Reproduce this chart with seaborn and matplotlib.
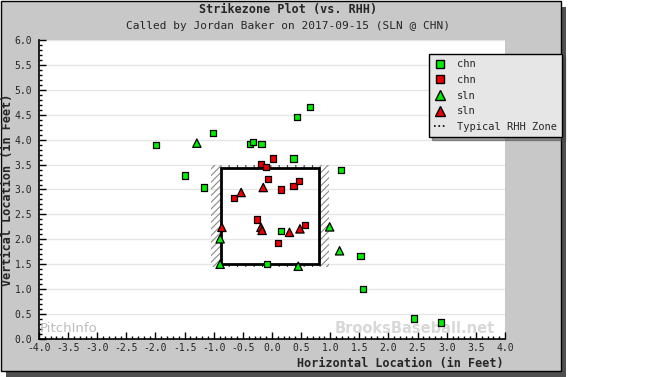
import matplotlib
matplotlib.use("Agg")
import matplotlib.pyplot as plt
import matplotlib.patches as mpatches
from matplotlib.lines import Line2D
import numpy as np
import pandas as pd
import seaborn as sns

# ---- data (feet) ----
chn_green_x = [-1.99, -1.01, -1.49, -1.17, -0.38, -0.33, -0.18, 0.43, 0.65, 0.37, 1.19, 0.16, -0.08, 1.52, 1.56, 2.44, 2.90]
chn_green_y = [3.89, 4.13, 3.28, 3.04, 3.91, 3.96, 3.91, 4.46, 4.66, 3.62, 3.39, 2.17, 1.50, 1.67, 1.01, 0.41, 0.33]
chn_red_x = [0.02, -0.19, -0.10, -0.07, 0.16, 0.37, 0.47, -0.65, -0.26, 0.57, 0.10]
chn_red_y = [3.62, 3.51, 3.45, 3.21, 3.00, 3.07, 3.17, 2.83, 2.40, 2.28, 1.92]
sln_green_x = [-1.29, -0.89, -0.89, 0.45, 0.99, 1.16]
sln_green_y = [3.93, 2.01, 1.50, 1.46, 2.25, 1.77]
sln_red_x = [-0.53, -0.15, -0.86, -0.19, -0.17, 0.30, 0.48]
sln_red_y = [2.94, 3.04, 2.24, 2.24, 2.18, 2.14, 2.21]

zone_left, zone_right = -0.88, 0.80
zone_bottom, zone_top = 1.51, 3.43

title = "Strikezone Plot (vs. RHH)"
subtitle = "Called by Jordan Baker on 2017-09-15 (SLN @ CHN)"
xlabel = "Horizontal Location (in Feet)"
ylabel = "Vertical Location (in Feet)"

frames = []
for xs, ys, team, call in [(chn_green_x, chn_green_y, "chn", "ball"),
                           (chn_red_x, chn_red_y, "chn", "strike"),
                           (sln_green_x, sln_green_y, "sln", "ball"),
                           (sln_red_x, sln_red_y, "sln", "strike")]:
    frames.append(pd.DataFrame({"x": xs, "y": ys, "team": team, "call": call}))
df = pd.concat(frames, ignore_index=True)

sns.set_style("white")
mono = ["DejaVu Sans Mono"]
plt.rcParams["font.family"] = mono

W, H = 670, 377
fig = plt.figure(figsize=(W / 100, H / 100), dpi=100)
fig.patch.set_facecolor("white")

px = lambda v: v / W
py = lambda v: 1 - v / H
fig.patches.append(mpatches.Rectangle((px(6), py(377)), px(560), 370 / H, transform=fig.transFigure,
                                      facecolor="#505050", edgecolor="none", zorder=-3))
fig.patches.append(mpatches.Rectangle((px(0.5), py(370.5)), px(560), 370 / H, transform=fig.transFigure,
                                      facecolor="#c8c8c8", edgecolor="black", linewidth=1, zorder=-2))

ax = fig.add_axes([px(39), py(339), px(505 - 39), (339 - 40) / H])
ax.set_facecolor("white")
ax.set_xlim(-4, 4)
ax.set_ylim(0, 6)

for gy in np.arange(0.5, 6.01, 0.5):
    ax.axhline(gy, color="#e6e6e6", lw=1, zorder=0)

plt.rcParams["hatch.linewidth"] = 0.8
hatch_kw = dict(facecolor="none", edgecolor="#8a8a8a", hatch="/////", lw=0, zorder=1)
ax.add_patch(mpatches.Rectangle((zone_left - 0.17, zone_bottom - 0.06), 0.17, zone_top - zone_bottom + 0.12, **hatch_kw))
ax.add_patch(mpatches.Rectangle((zone_right, zone_bottom - 0.06), 0.17, zone_top - zone_bottom + 0.12, **hatch_kw))
tick_kw = dict(facecolor="none", edgecolor="#404040", hatch="||", lw=0, zorder=1)
ax.add_patch(mpatches.Rectangle((zone_left, zone_top), zone_right - zone_left, 0.07, **tick_kw))
ax.add_patch(mpatches.Rectangle((zone_left, zone_bottom - 0.07), zone_right - zone_left, 0.07, **tick_kw))
ax.add_patch(mpatches.Rectangle((zone_left, zone_bottom), zone_right - zone_left, zone_top - zone_bottom,
                                facecolor="none", edgecolor="black", lw=2, zorder=2))

palette = {"ball": "#00ee00", "strike": "#ee0000"}
markers = {"chn": "s", "sln": "^"}
for team, size in [("chn", 20), ("sln", 36)]:
    sub = df[df["team"] == team]
    sns.scatterplot(data=sub, x="x", y="y", hue="call", palette=palette, marker=markers[team],
                    s=size, edgecolor="black", linewidth=0.9, ax=ax, legend=False, zorder=3)

ax.set_xlabel("")
ax.set_ylabel("")
xt = np.arange(-4, 4.01, 0.5)
yt = np.arange(0, 6.01, 0.5)
ax.set_xticks(xt)
ax.set_xticklabels([f"{v:.1f}" for v in xt], fontsize=7)
ax.set_yticks(yt)
ax.set_yticklabels([f"{v:.1f}" for v in yt], fontsize=7)
ax.set_xticks(np.arange(-4, 4.01, 0.1), minor=True)
ax.set_yticks(np.arange(0, 6.01, 0.1), minor=True)
ax.tick_params(axis="both", which="major", direction="in", length=5, width=1, color="black")
ax.tick_params(axis="both", which="minor", direction="in", length=2.5, width=1, color="black")
ax.tick_params(axis="x", which="major", pad=3)
ax.tick_params(axis="y", which="major", pad=5)
ax.tick_params(axis="x", which="both", bottom=True, top=False)
ax.tick_params(axis="y", which="both", left=True, right=False)
for s in ["top", "right"]:
    ax.spines[s].set_visible(False)
for s in ["left", "bottom"]:
    ax.spines[s].set_color("black")
    ax.spines[s].set_linewidth(1.2)

ax.text(-3.98, 0.08, "PitchInfo", fontsize=9.5, color="#bdbdbd", family="DejaVu Sans", ha="left", va="bottom", zorder=1)
ax.text(2.45, 0.06, "BrooksBaseball.net", fontsize=10.5, color="#d8d8d8", fontweight="bold",
        family="DejaVu Sans", ha="center", va="bottom", zorder=1)

fig.text(px(288), py(10), title, ha="center", va="center", fontsize=8.5, fontweight="bold")
fig.text(px(288), py(26), subtitle, ha="center", va="center", fontsize=8)
fig.text(px(504), py(364), xlabel, ha="right", va="center", fontsize=8.5, fontweight="bold")
fig.text(px(8), py(190), ylabel, ha="center", va="center", rotation=90, fontsize=8.5, fontweight="bold")

handles = [
    Line2D([], [], marker="s", ls="none", markerfacecolor="#00ee00", markeredgecolor="black", markersize=6),
    Line2D([], [], marker="s", ls="none", markerfacecolor="#ee0000", markeredgecolor="black", markersize=6),
    Line2D([], [], marker="^", ls="none", markerfacecolor="#00ee00", markeredgecolor="black", markersize=7),
    Line2D([], [], marker="^", ls="none", markerfacecolor="#ee0000", markeredgecolor="black", markersize=7),
    Line2D([], [], ls=":", color="black", lw=1.2),
]
labels = ["chn", "chn", "sln", "sln", "Typical RHH Zone"]
leg = fig.legend(handles, labels, loc="upper left", bbox_to_anchor=(px(429), py(54)),
                 bbox_transform=fig.transFigure, fontsize=7.5, frameon=True, fancybox=False,
                 shadow=True, handlelength=1.2, handletextpad=1.0, labelspacing=0.55,
                 borderpad=0.5, borderaxespad=0)
leg.get_frame().set_facecolor("#e6e6e6")
leg.get_frame().set_edgecolor("black")
leg.get_frame().set_alpha(1)

fig.savefig("out.png", dpi=100, facecolor=fig.get_facecolor())
